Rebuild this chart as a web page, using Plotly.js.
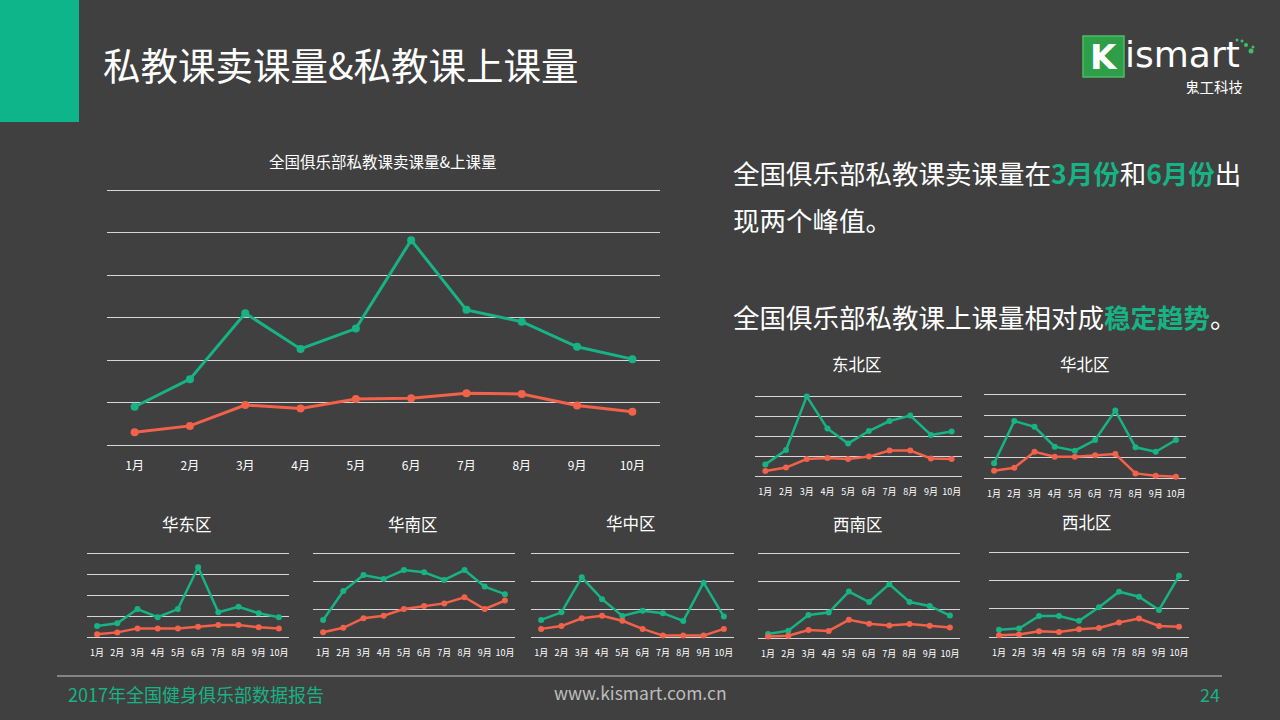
<!DOCTYPE html>
<html>
<head>
<meta charset="utf-8">
<script src="https://cdn.plot.ly/plotly-3.0.1.min.js"></script>
<style>
html,body{margin:0;padding:0;background:#404040;}
#chart{width:1280px;height:720px;}
</style>
</head>
<body>
<div id="chart"></div>
<script>
const months = ['1月','2月','3月','4月','5月','6月','7月','8月','9月','10月'];
const seriesNames = ['卖课量','上课量'];

const nationalSales   = [0.90,1.55,3.10,2.26,2.74,4.82,3.18,2.90,2.31,2.02];
const nationalClasses = [0.30,0.45,0.94,0.86,1.08,1.10,1.22,1.20,0.93,0.78];

const northeastSales   = [0.58,1.30,3.98,2.37,1.63,2.25,2.75,3.02,2.05,2.22];
const northeastClasses = [0.25,0.42,0.85,0.90,0.85,0.97,1.27,1.27,0.88,0.85];

const northSales   = [0.70,2.71,2.44,1.49,1.30,1.81,3.21,1.46,1.25,1.81];
const northClasses = [0.35,0.49,1.25,1.01,1.01,1.08,1.14,0.22,0.11,0.06];

const eastSales   = [0.52,0.65,1.33,0.94,1.33,3.32,1.18,1.44,1.13,0.94];
const eastClasses = [0.13,0.22,0.41,0.41,0.41,0.49,0.57,0.57,0.46,0.41];

const southSales   = [0.61,1.64,2.21,2.07,2.39,2.31,2.04,2.39,1.80,1.53];
const southClasses = [0.17,0.33,0.67,0.76,1.00,1.11,1.20,1.42,1.00,1.30];

const centralSales   = [0.61,0.88,2.13,1.35,0.75,0.94,0.85,0.57,1.94,0.73];
const centralClasses = [0.29,0.39,0.67,0.76,0.58,0.29,0.05,0.05,0.05,0.29];

const southwestSales   = [0.14,0.26,0.81,0.90,1.64,1.27,1.90,1.27,1.13,0.79];
const southwestClasses = [0.05,0.08,0.28,0.25,0.64,0.50,0.44,0.49,0.43,0.37];

const northwestSales   = [0.26,0.30,0.74,0.74,0.57,1.05,1.60,1.42,0.95,2.16];
const northwestClasses = [0.06,0.09,0.20,0.18,0.27,0.32,0.51,0.65,0.39,0.36];

const regionTitles = ['东北区','华北区','华东区','华南区','华中区','西南区','西北区'];

const GREEN = '#17b384';
const RED = '#f2614a';
const BG = '#404040';
const GRID = '#d6d6d6';
const FONT = '"Noto Sans CJK SC", "Noto Sans", sans-serif';
const W = 1280, H = 720;
const fx = px => px / W;
const fy = py => 1 - py / H;

const panels = [
  {x0:107, x1:660, yb:445, yt:190, ymax:6, sales:nationalSales, classes:nationalClasses, main:true},
  {x0:755, x1:962, yb:476, yt:396, ymax:4, sales:northeastSales, classes:northeastClasses, title:regionTitles[0], tx:857, ty:364},
  {x0:984, x1:1186, yb:478, yt:394, ymax:4, sales:northSales, classes:northClasses, title:regionTitles[1], tx:1085, ty:364},
  {x0:87, x1:289, yb:637, yt:553, ymax:4, sales:eastSales, classes:eastClasses, title:regionTitles[2], tx:187, ty:524},
  {x0:313, x1:515, yb:637, yt:553, ymax:3, sales:southSales, classes:southClasses, title:regionTitles[3], tx:413, ty:524},
  {x0:531, x1:734, yb:637, yt:553, ymax:3, sales:centralSales, classes:centralClasses, title:regionTitles[4], tx:631, ty:523},
  {x0:758, x1:960, yb:638, yt:553, ymax:3, sales:southwestSales, classes:southwestClasses, title:regionTitles[5], tx:858, ty:524},
  {x0:989, x1:1189, yb:637, yt:552, ymax:3, sales:northwestSales, classes:northwestClasses, title:regionTitles[6], tx:1087, ty:522}
];

const traces = [];
const layout = {
  width: W, height: H,
  margin: {l:0, r:0, t:0, b:0},
  paper_bgcolor: BG, plot_bgcolor: 'rgba(0,0,0,0)',
  showlegend: false,
  hovermode: false,
  font: {family: FONT, color: '#ffffff'},
  shapes: [], annotations: []
};

panels.forEach((p, i) => {
  const n = i === 0 ? '' : String(i + 1);
  const xa = 'x' + n, ya = 'y' + n;
  const lw = p.main ? 3 : 2.5;
  const ms = p.main ? 8 : 6;
  traces.push({
    type:'scatter', mode:'lines+markers', name: seriesNames[0],
    x: months, y: p.sales, xaxis: xa, yaxis: ya, cliponaxis:false,
    line:{color:GREEN, width:lw}, marker:{color:GREEN, size:ms}
  });
  traces.push({
    type:'scatter', mode:'lines+markers', name: seriesNames[1],
    x: months, y: p.classes, xaxis: xa, yaxis: ya, cliponaxis:false,
    line:{color:RED, width:lw}, marker:{color:RED, size:ms}
  });
  // extend the range by ~2px so the top gridline is drawn
  const pxPerUnit = (p.yb - p.yt) / p.ymax;
  const padPx = 2;
  const eps = padPx / pxPerUnit;
  layout['xaxis' + n] = {
    domain:[fx(p.x0), fx(p.x1)], anchor: ya,
    type:'category', categoryorder:'array', categoryarray: months,
    range:[-0.5, 9.5], showgrid:false, zeroline:false, showline:false,
    ticks:'', ticklabelstandoff: p.main ? 12 : 9,
    tickfont:{size: p.main ? 12 : 9, color:'#ffffff', family: FONT},
    fixedrange:true
  };
  layout['yaxis' + n] = {
    domain:[fy(p.yb), fy(p.yt - padPx)], anchor: xa,
    range:[0, p.ymax + eps], dtick:1, tick0:0,
    showgrid:true, gridcolor:GRID, gridwidth:1,
    zeroline:true, zerolinecolor:GRID, zerolinewidth:1,
    showticklabels:false, showline:false, ticks:'', fixedrange:true
  };
  if (p.title) {
    layout.annotations.push({
      xref:'paper', yref:'paper', x:fx(p.tx), y:fy(p.ty), xanchor:'center', yanchor:'middle',
      text:p.title, showarrow:false, font:{size:16.5, color:'#ffffff', family:FONT}
    });
  }
});

// main chart title
layout.annotations.push({
  xref:'paper', yref:'paper', x:fx(383), y:fy(161), xanchor:'center', yanchor:'middle',
  text:'全国俱乐部私教课卖课量&上课量', showarrow:false,
  font:{size:15.5, color:'#ffffff', family:FONT}
});

// slide title
layout.shapes.push({type:'rect', xref:'paper', yref:'paper', x0:0, x1:fx(79), y0:fy(122), y1:1,
  fillcolor:'#0fb58a', line:{width:0}, layer:'below'});
layout.annotations.push({
  xref:'paper', yref:'paper', x:fx(101), y:fy(63), xanchor:'left', yanchor:'middle',
  text:'私教课卖课量&私教课上课量', showarrow:false,
  font:{size:37.5, color:'#ffffff', family:FONT}
});

// right-hand text
const hl = t => '<span style="color:' + GREEN + '"><b>' + t + '</b></span>';
[
  {t:'全国俱乐部私教课卖课量在' + hl('3月份') + '和' + hl('6月份') + '出', y:172},
  {t:'现两个峰值。', y:219},
  {t:'全国俱乐部私教课上课量相对成' + hl('稳定趋势') + '。', y:316}
].forEach(o => layout.annotations.push({
  xref:'paper', yref:'paper', x:fx(731), y:fy(o.y), xanchor:'left', yanchor:'middle',
  text:o.t, showarrow:false, font:{size:26.5, color:'#ffffff', family:FONT}
}));

// logo
layout.shapes.push({type:'rect', xref:'paper', yref:'paper', x0:fx(1083), x1:fx(1124), y0:fy(77), y1:fy(36),
  fillcolor:'#2e9e48', line:{color:'#4cbc60', width:1.5}});
layout.annotations.push({xref:'paper', yref:'paper', x:fx(1103.5), y:fy(57), xanchor:'center', yanchor:'middle',
  text:'<b>K</b>', showarrow:false, height:30, font:{size:34, color:'#ffffff', family:'"DejaVu Sans", sans-serif'}});
layout.annotations.push({xref:'paper', yref:'paper', x:fx(1123), y:fy(54), xanchor:'left', yanchor:'middle',
  text:'ismart', showarrow:false, height:28, font:{size:36, color:'#ffffff', family:'"DejaVu Sans", sans-serif'}});
layout.annotations.push({xref:'paper', yref:'paper', x:fx(1245), y:fy(86), xanchor:'right', yanchor:'middle',
  text:'鬼工科技', showarrow:false, height:15, font:{size:14.5, color:'#ffffff', family:FONT}});
[[1237,40,1.5],[1242,41,1.5],[1246,45,2],[1251,51,2.5],[1253,47,1.5]].forEach(d => layout.shapes.push({
  type:'circle', xref:'paper', yref:'paper', x0:fx(d[0]-d[2]), x1:fx(d[0]+d[2]), y0:fy(d[1]+d[2]), y1:fy(d[1]-d[2]),
  fillcolor:'#3fbf6a', line:{width:0}
}));

// footer
layout.shapes.push({type:'line', xref:'paper', yref:'paper', x0:fx(57), x1:fx(1222), y0:fy(676), y1:fy(676),
  line:{color:'#c8c8c8', width:1}});
layout.annotations.push({xref:'paper', yref:'paper', x:fx(66), y:fy(694), xanchor:'left', yanchor:'middle',
  text:'2017年全国健身俱乐部数据报告', showarrow:false, font:{size:18, color:GREEN, family:FONT}});
layout.annotations.push({xref:'paper', yref:'paper', x:fx(640), y:fy(692), xanchor:'center', yanchor:'middle',
  text:'www.kismart.com.cn', showarrow:false, font:{size:17.5, color:'#bdbdbd', family:FONT}});
layout.annotations.push({xref:'paper', yref:'paper', x:fx(1222), y:fy(694), xanchor:'right', yanchor:'middle',
  text:'24', showarrow:false, font:{size:18, color:GREEN, family:FONT}});

Plotly.newPlot('chart', traces, layout, {displayModeBar:false, staticPlot:true});
</script>
</body>
</html>
